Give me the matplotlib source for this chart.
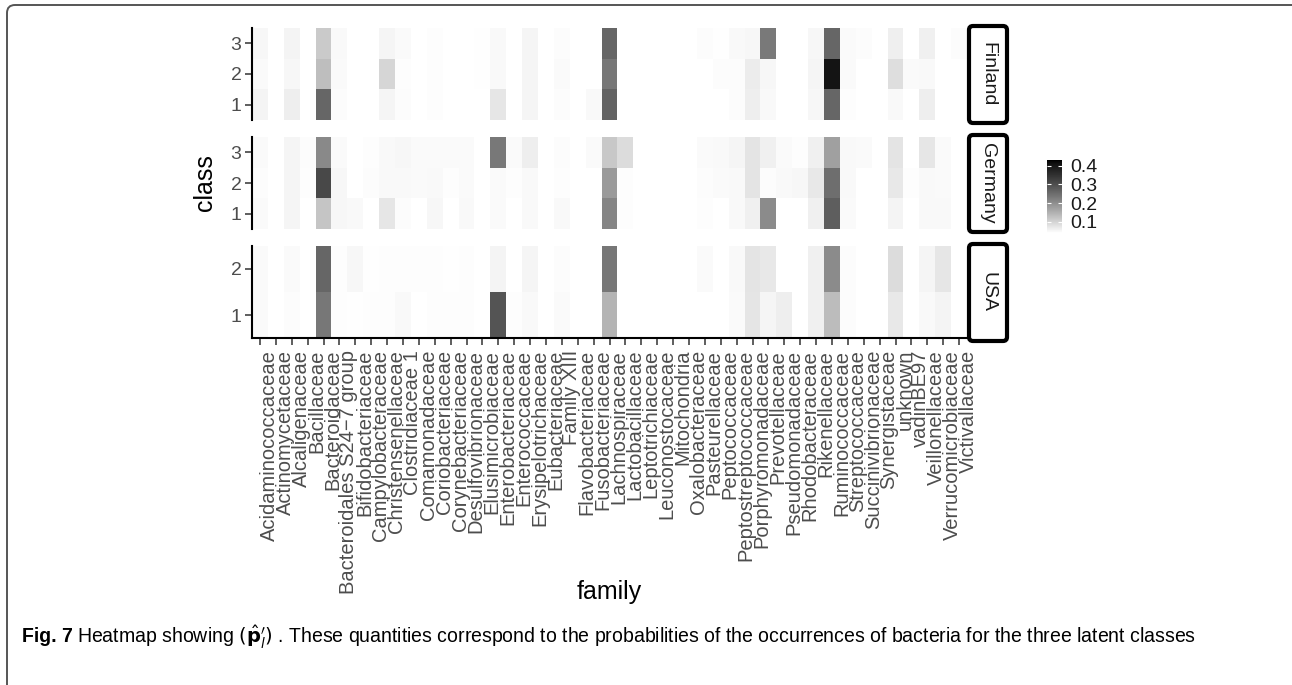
#Heatmap of latent class occurrence probabilities per bacterial family

import numpy as np
import matplotlib
matplotlib.use("Agg")
import matplotlib.pyplot as plt
from matplotlib.colors import ListedColormap
from matplotlib.patches import FancyBboxPatch
from matplotlib.transforms import IdentityTransform

families = ["Acidaminococcaceae", "Actinomycetaceae", "Alcaligenaceae", "Bacillaceae",
            "Bacteroidaceae", "Bacteroidales S24\u22127 group", "Bifidobacteriaceae",
            "Campylobacteraceae", "Christensenellaceae", "Clostridiaceae 1", "Comamonadaceae",
            "Coriobacteriaceae", "Corynebacteriaceae", "Desulfovibrionaceae", "Elusimicrobiaceae",
            "Enterobacteriaceae", "Enterococcaceae", "Erysipelotrichaceae", "Eubacteriaceae",
            "Family XIII", "Flavobacteriaceae", "Fusobacteriaceae", "Lachnospiraceae",
            "Lactobacillaceae", "Leptotrichiaceae", "Leuconostocaceae", "Mitochondria",
            "Oxalobacteraceae", "Pasteurellaceae", "Peptococcaceae", "Peptostreptococcaceae",
            "Porphyromonadaceae", "Prevotellaceae", "Pseudomonadaceae", "Rhodobacteraceae",
            "Rikenellaceae", "Ruminococcaceae", "Streptococcaceae", "Succinivibrionaceae",
            "Synergistaceae", "unknown", "vadinBE97", "Veillonellaceae", "Verrucomicrobiaceae",
            "Victivallaceae"]

countries = ["Finland", "Germany", "USA"]

# values per class, one entry per family
finland_1 = [0.056, 0.041, 0.063, 0.040, 0.262, 0.045, 0.040, 0.040, 0.054, 0.045,
             0.040, 0.044, 0.040, 0.040, 0.041, 0.074, 0.040, 0.054, 0.040, 0.045,
             0.040, 0.049, 0.266, 0.040, 0.040, 0.040, 0.040, 0.040, 0.040, 0.040,
             0.045, 0.063, 0.048, 0.040, 0.040, 0.051, 0.262, 0.044, 0.040, 0.040,
             0.049, 0.040, 0.063, 0.040, 0.040]
finland_2 = [0.047, 0.041, 0.051, 0.040, 0.130, 0.047, 0.040, 0.040, 0.097, 0.044,
             0.040, 0.044, 0.040, 0.040, 0.043, 0.048, 0.040, 0.054, 0.040, 0.047,
             0.040, 0.040, 0.235, 0.040, 0.040, 0.040, 0.040, 0.040, 0.040, 0.045,
             0.045, 0.066, 0.052, 0.040, 0.040, 0.054, 0.405, 0.047, 0.040, 0.040,
             0.085, 0.047, 0.049, 0.040, 0.040]
finland_3 = [0.051, 0.041, 0.056, 0.040, 0.114, 0.048, 0.040, 0.041, 0.055, 0.047,
             0.040, 0.044, 0.040, 0.040, 0.043, 0.049, 0.040, 0.054, 0.040, 0.045,
             0.040, 0.040, 0.262, 0.040, 0.040, 0.040, 0.040, 0.040, 0.045, 0.043,
             0.048, 0.052, 0.231, 0.040, 0.040, 0.052, 0.262, 0.047, 0.045, 0.040,
             0.062, 0.040, 0.060, 0.040, 0.045]

germany_1 = [0.047, 0.041, 0.054, 0.040, 0.120, 0.051, 0.049, 0.040, 0.074, 0.045,
             0.040, 0.051, 0.040, 0.049, 0.040, 0.047, 0.040, 0.049, 0.040, 0.049,
             0.040, 0.040, 0.213, 0.044, 0.040, 0.040, 0.040, 0.040, 0.044, 0.040,
             0.049, 0.060, 0.204, 0.040, 0.040, 0.060, 0.274, 0.047, 0.040, 0.040,
             0.056, 0.040, 0.049, 0.049, 0.040]
germany_2 = [0.045, 0.040, 0.054, 0.044, 0.310, 0.051, 0.040, 0.045, 0.049, 0.049,
             0.047, 0.049, 0.044, 0.047, 0.040, 0.047, 0.044, 0.049, 0.040, 0.044,
             0.040, 0.040, 0.182, 0.044, 0.040, 0.040, 0.040, 0.040, 0.045, 0.047,
             0.049, 0.078, 0.045, 0.049, 0.051, 0.071, 0.249, 0.049, 0.040, 0.040,
             0.071, 0.044, 0.049, 0.047, 0.040]
germany_3 = [0.047, 0.040, 0.054, 0.045, 0.207, 0.047, 0.040, 0.044, 0.049, 0.051,
             0.047, 0.047, 0.047, 0.047, 0.040, 0.233, 0.047, 0.063, 0.040, 0.045,
             0.040, 0.047, 0.116, 0.088, 0.040, 0.040, 0.040, 0.040, 0.047, 0.049,
             0.054, 0.078, 0.060, 0.047, 0.044, 0.060, 0.173, 0.049, 0.047, 0.040,
             0.078, 0.040, 0.074, 0.047, 0.040]

usa_1 = [0.047, 0.040, 0.045, 0.040, 0.235, 0.044, 0.043, 0.044, 0.044, 0.049,
         0.040, 0.044, 0.044, 0.044, 0.040, 0.290, 0.044, 0.049, 0.040, 0.047,
         0.040, 0.040, 0.145, 0.040, 0.040, 0.040, 0.040, 0.040, 0.040, 0.040,
         0.047, 0.076, 0.054, 0.063, 0.040, 0.060, 0.134, 0.045, 0.040, 0.040,
         0.071, 0.040, 0.049, 0.056, 0.040]
usa_2 = [0.047, 0.040, 0.047, 0.040, 0.262, 0.044, 0.051, 0.043, 0.044, 0.044,
         0.044, 0.044, 0.043, 0.044, 0.040, 0.056, 0.040, 0.054, 0.040, 0.045,
         0.040, 0.040, 0.235, 0.040, 0.040, 0.040, 0.040, 0.040, 0.047, 0.040,
         0.049, 0.078, 0.071, 0.040, 0.040, 0.060, 0.204, 0.045, 0.040, 0.040,
         0.088, 0.040, 0.054, 0.074, 0.040]

panel_rows = {"Finland": [finland_1, finland_2, finland_3],
              "Germany": [germany_1, germany_2, germany_3],
              "USA": [usa_1, usa_2]}

cbar_ticks = [0.1, 0.2, 0.3, 0.4]
vmin, vmax = 0.04, 0.43

W, H = 1292, 685


def box(x0, y0, x1, y1):
    # pixel box (top-left origin) -> figure fraction rect
    return [x0 / W, 1 - y1 / H, (x1 - x0) / W, (y1 - y0) / H]


def lab_gray_cmap():
    # white -> black, linear in CIE L* like ggplot's gradient
    L = np.linspace(100, 0, 256)
    Y = np.where(L > 8, ((L + 16) / 116.0) ** 3, L / 903.3)
    g = np.where(Y <= 0.0031308, 12.92 * Y, 1.055 * Y ** (1 / 2.4) - 0.055)
    g = np.clip(g, 0, 1)
    return ListedColormap(np.stack([g, g, g, np.ones_like(g)], axis=1))


plt.rcParams['font.family'] = ['Liberation Sans', 'DejaVu Sans']
cmap = lab_gray_cmap()

fig = plt.figure(figsize=(W / 100, H / 100), dpi=100)

panel_px = {"Finland": (252, 28, 967, 120),
            "Germany": (252, 137, 967, 229),
            "USA": (252, 246, 967, 338)}
strip_px = {"Finland": (969, 26, 1007, 123),
            "Germany": (969, 135, 1007, 232),
            "USA": (969, 244, 1007, 341)}

mesh = None
for c in countries:
    rows = np.array(panel_rows[c])
    n = rows.shape[0]
    ax = fig.add_axes(box(*panel_px[c]))
    mesh = ax.pcolormesh(np.arange(len(families) + 1) - 0.5, np.arange(n + 1) + 0.5, rows,
                         cmap=cmap, vmin=vmin, vmax=vmax)
    ax.set_xlim(-0.5, len(families) - 0.5)
    ax.set_ylim(0.5, n + 0.5)
    ax.set_yticks(range(1, n + 1))
    ax.set_yticklabels([str(i) for i in range(1, n + 1)])
    for s in ['top', 'right']:
        ax.spines[s].set_visible(False)
    ax.spines['left'].set_linewidth(1.5)
    ax.tick_params(axis='y', length=5, width=1.1, color='#333333', labelsize=14,
                   labelcolor='#4D4D4D', pad=2.5)
    if c == "USA":
        ax.spines['bottom'].set_linewidth(1.5)
        ax.set_xticks(range(len(families)))
        ax.set_xticklabels(families, rotation=90, ha='left', va='top')
        ax.tick_params(axis='x', length=5, width=1.1, color='#333333', labelsize=14.5,
                       labelcolor='#4D4D4D', pad=3.5)
    else:
        ax.spines['bottom'].set_visible(False)
        ax.set_xticks([])

    # facet strip on the right
    x0, y0, x1, y1 = strip_px[c]
    strip = FancyBboxPatch((x0, H - y1), x1 - x0, y1 - y0,
                           boxstyle="round,pad=0,rounding_size=4",
                           transform=IdentityTransform(), facecolor='white',
                           edgecolor='black', linewidth=3)
    fig.patches.append(strip)
    fig.text((x0 + x1) / 2 / W, 1 - (y0 + y1) / 2 / H, c, rotation=-90,
             ha='center', va='center', fontsize=14, color='#1A1A1A')

fig.text(205 / W, 1 - 183 / H, "class", rotation=90, ha='center', va='center', fontsize=18)
fig.text(609 / W, 1 - 592 / H, "family", ha='center', va='center', fontsize=18)

# colourbar
cax = fig.add_axes(box(1047, 160, 1062, 233))
cb = fig.colorbar(mesh, cax=cax, ticks=cbar_ticks)
cb.outline.set_visible(False)
cax.yaxis.set_ticks_position('both')
cax.tick_params(direction='in', length=3, width=0.8, color='white', labelsize=14,
                labelcolor='#1A1A1A', pad=6, labelright=True, labelleft=False)
cax.set_yticklabels([str(t) for t in cbar_ticks])

# figure frame (top and left edges only)
frame = FancyBboxPatch((7, -60), 1400, H - 5 + 60, boxstyle="round,pad=0,rounding_size=8",
                       transform=IdentityTransform(), facecolor='none',
                       edgecolor='#555555', linewidth=1.4)
fig.patches.append(frame)

# caption, sized so it spans the same width as the original
renderer = fig.canvas.get_renderer()
cap_y = 1 - 637 / H
cap_rest = (r"Heatmap showing $(\hat{\mathbf{p}}^{\prime}_{l})$ . These quantities correspond to "
            "the probabilities of the occurrences of bacteria for the three latent classes")
size = 12.5
t1 = fig.text(22 / W, cap_y, "Fig. 7", weight='bold', fontsize=size, va='center', ha='left')
t2 = fig.text(0, cap_y, cap_rest, fontsize=size, va='center', ha='left')
w = t1.get_window_extent(renderer).width + 4 + t2.get_window_extent(renderer).width
size = size * (1200 - 22) / w
t1.set_fontsize(size)
t2.set_fontsize(size)
bb = t1.get_window_extent(renderer)
t2.set_x((bb.x1 + 4) / W)

fig.savefig("out.png", dpi=100)
